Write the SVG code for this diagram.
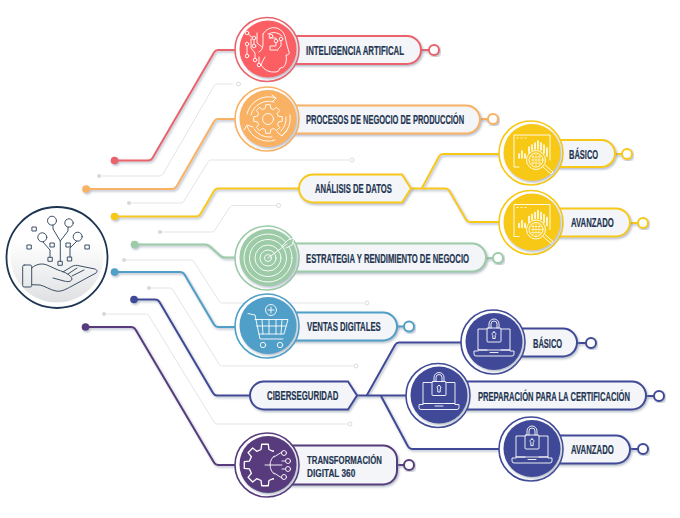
<svg xmlns="http://www.w3.org/2000/svg" width="680" height="518" viewBox="0 0 680 518">
<style>
.t{font-family:"Liberation Sans",Arial,sans-serif;font-weight:700;font-size:12.500px;fill:#1f3552;stroke:#1f3552;stroke-width:.2;text-anchor:start}
.t2{font-size:11px}
.lines path{fill:none;stroke-width:2;stroke-linejoin:round;stroke-linecap:round}
.faint path{fill:none;stroke:#e3e5e8;stroke-width:1;stroke-linejoin:round}
.faint circle{fill:#fff;stroke:#d9dcdf;stroke-width:1}
.faint .d{fill:#d6d8db;stroke:none}
.pill{fill:#f3f5f8;stroke:currentColor;stroke-width:2}
.ring{fill:#fff;stroke:currentColor;stroke-width:1.6}
.disc{fill:currentColor}
.ic{fill:none;stroke:#fff;stroke-width:.9;stroke-linejoin:round;stroke-linecap:round}
.dk{fill:none;stroke:#3d5066;stroke-width:1;stroke-linejoin:round;stroke-linecap:round}
.end{fill:#fff;stroke:currentColor;stroke-width:2}
.red{color:#ea646c}.org{color:#f9b263}.yel{color:#f7c914}.grn{color:#9dcba8}.blu{color:#4f9fc8}.nvy{color:#414a97}.pur{color:#583b7d}
</style>
<defs>
<filter id="s" x="-20%" y="-20%" width="140%" height="140%"><feDropShadow dx="1.2" dy="1.5" stdDeviation="1" flood-color="#7f8da3" flood-opacity=".6"/></filter>
<linearGradient id="hg" x1="0" y1="0" x2="0" y2="1"><stop offset=".35" stop-color="#fff"/><stop offset="1" stop-color="#dfe0e2"/></linearGradient>
<clipPath id="halfgear"><rect x="-30" y="-30" width="36" height="60"/></clipPath>
<polygon id="gear" points="10.7,-2.7 14.3,-2.3 14.3,2.3 10.7,2.7 9.4,5.7 11.7,8.5 8.5,11.7 5.7,9.4 2.7,10.7 2.3,14.3 -2.3,14.3 -2.7,10.7 -5.7,9.4 -8.5,11.7 -11.7,8.5 -9.4,5.7 -10.7,2.7 -14.3,2.3 -14.3,-2.3 -10.7,-2.7 -9.4,-5.7 -11.7,-8.5 -8.5,-11.7 -5.7,-9.4 -2.7,-10.7 -2.3,-14.3 2.3,-14.3 2.7,-10.7 5.7,-9.4 8.5,-11.7 11.7,-8.5 9.4,-5.7"/>
<g id="chart" class="ic">
<path d="M-13,14H-18V-18H18V7"/><path d="M-15,-15h1M-11,-15h1M-7,-15h1"/>
<path d="M-13,5V1M-10,5V-2M-7,5V1M-3,0V-6M0,-3V-8M3,-4V-10M6,-4V-12M9,-3V-10M12,0V-8M15,3V-5" stroke-width="1.6"/>
<circle cx="4" cy="7" r="9.5"/><circle cx="4" cy="7" r="7"/>
<path d="M-1,10H9M-1,7H10M-1,4H9M1,2V12M4,1V13M7,2V12" stroke-width=".6"/>
<path d="M11,14L19,21L21,19L13,12"/>
</g>
<g id="laptop" class="ic">
<path d="M-6,8H-15V-13H-6M8,-13H17V8H8"/>
<path d="M-15,8H17V9H21V12Q21,14 19,14H-17Q-19,14 -19,12V9H-15"/><path d="M-3,10.500H5"/>
<rect x="-6" y="-14" width="14" height="14" rx="1"/>
<path d="M-4,-14V-18A5,5 0 0 1 6,-18V-14M-2,-14V-18A3,3 0 0 1 4,-18V-14"/>
<path d="M1,-10A2,2 0 0 1 2.200,-6.500V-3.500H-.2V-6.500A2,2 0 0 1 1,-10Z"/>
</g>
</defs>
<rect width="680" height="518" fill="#fff"/>

<g id="connectors">
<g class="faint">
<path d="M99,176H160Q162,176 163,174L214,86Q215,84 217,84H233"/><circle cx="238.500" cy="84" r="2"/><circle class="d" cx="99" cy="176" r="2"/>
<path d="M129,203H181Q183,203 184,201L208,162Q209,160 211,160H349"/><circle cx="352" cy="160" r="2"/><circle class="d" cx="129" cy="203" r="2"/>
<path d="M160,232H212Q214,232 215,230L230,207Q231,205.500 233,205.500H276"/><circle cx="278.500" cy="205.500" r="2"/><circle class="d" cx="160" cy="232" r="2"/>
<path d="M124,260H191Q193,260 194,262L219,301Q220,303 222,303H364"/><circle cx="367" cy="303" r="2"/><circle class="d" cx="124" cy="260" r="2"/>
<path d="M149,288H170Q172,288 173,290L219,364Q220,366 222,366H353"/><circle cx="356" cy="366" r="2"/><circle class="d" cx="149" cy="288" r="2"/>
<path d="M104,314H146Q148,314 149,316L214,422Q215,424 217,424H347"/><circle cx="350" cy="424" r="2"/><circle class="d" cx="104" cy="314" r="2"/>
</g>
<g class="lines" filter="url(#s)">
<g stroke="#ea646c"><path d="M114,160.500H148Q151,160.500 152.500,158L214,52.500Q215.500,50 218,50H240"/><circle cx="114.500" cy="160.500" r="3.800" fill="#ea646c" stroke="none"/><path d="M421,50H429"/></g>
<g stroke="#f9b263"><path d="M86,189H172Q175,189 176.500,186.500L214,121.500Q215.500,119 218,119H240"/><circle cx="86" cy="189" r="3.800" fill="#f9b263" stroke="none"/><path d="M480,119H488"/></g>
<g stroke="#f7c914"><path d="M114,216.500H196Q199,216.500 200.500,214L214,191Q215.500,188.500 218,188.500H299"/><circle cx="114.500" cy="216.500" r="3.800" fill="#f7c914" stroke="none"/>
<path d="M411,188.500H445Q448,188.500 449.500,191L466,219.500Q467.500,222 470,222H502"/><path d="M422,188L439,156.500Q440.500,154 443,154H502"/><path d="M615,154H622M630,223H638"/></g>
<g stroke="#9dcba8"><path d="M134.500,244.500H205Q208,244.500 210,246.500L220,255.500Q222,257.500 225,257.500H240"/><circle cx="134.500" cy="244.500" r="3.800" fill="#9dcba8" stroke="none"/><path d="M486,258H493"/></g>
<g stroke="#4f9fc8"><path d="M114,272H180Q183,272 184.500,274.500L214,324.500Q215.500,327 218,327H240"/><circle cx="114.500" cy="272" r="3.800" fill="#4f9fc8" stroke="none"/><path d="M397,326.500H404"/></g>
<g stroke="#414a97"><path d="M134,299.500H155Q158,299.500 159.500,302L213,393Q214.500,395.500 217,395.500H251"/><circle cx="134" cy="299.500" r="3.800" fill="#414a97" stroke="none"/>
<path d="M357,395.500H410"/><path d="M367,395L395,345Q396.500,342.500 399,342.500H465"/><path d="M381,396L408,446.500Q409.500,449 412,449H502"/><path d="M577,343H586M646,396H654M630,449H638"/></g>
<g stroke="#583b7d"><path stroke-width="1.600" d="M85.500,327H131Q134,327 135.500,329.500L214,462.500Q215.500,465 218,465H240"/><circle cx="85.500" cy="327" r="3.800" fill="#583b7d" stroke="none"/><path d="M397,465H404"/></g>
</g>
</g>

<g id="hub">
<circle cx="57" cy="257.500" r="50.500" fill="#fff" stroke="#1d3550" stroke-width="1.800"/>
<circle cx="57" cy="256" r="46.500" fill="url(#hg)"/>
<g class="dk">
<circle cx="52" cy="220.700" r="4.500"/><circle cx="69" cy="223" r="4.200"/><circle cx="42.300" cy="237.300" r="4.500"/><circle cx="77.700" cy="236.700" r="4.500"/>
<path d="M60.300,261V241L53,229V225M60.300,241L68,231V227M43,242L50,250V257M77,241L70,248V257"/>
<rect x="32.300" y="227" width="4" height="4"/><rect x="27.300" y="245" width="4" height="4"/><rect x="50.300" y="243" width="4" height="4"/><rect x="66.300" y="243" width="4" height="4"/><rect x="85.300" y="245" width="4" height="4"/><rect x="48.300" y="257.300" width="4" height="4"/><rect x="58.300" y="261.300" width="4" height="4"/><rect x="67.700" y="257" width="4" height="4"/>
<rect x="22.700" y="265" width="9" height="22" rx="1.500"/>
<path d="M31.700,268C36,264 42,263 47,265L58,270C65,272 71,275 72,279C71,282 68,282 64,281L53,278M63,272L71,267C74,265 77,265 80,266L95,269C97.500,270 97.500,272 96,273L72,286C65,290 60,292 56,291C50,290 45,286 40,285L31.700,284.700M68,274L77,268M72,276L84,270"/>
</g>
</g>

<g id="n-ia" class="red">
<rect class="pill" x="275" y="36" width="146" height="28" rx="14" filter="url(#s)"/>
<circle class="end" cx="434" cy="50" r="5" filter="url(#s)"/>
<circle class="ring" cx="267" cy="49.500" r="32"/><circle class="disc" cx="268" cy="49" r="28.500" style="color:#fb5f64" filter="url(#s)"/>
<g class="ic" transform="translate(268,49)">
<path d="M-5,-15Q0,-23 9,-21Q17,-18 18,-8Q19,-3 21,3Q22,6 18,6Q19,10 18,13Q17,19 12,19Q12,22 8,23Q-2,24 -7,16Q-5,11 -3,8"/>
<path d="M-5,-15V-5Q-5,1 -9,3M0,-15Q8,-19 14,-13M1,-11H8V-3H2V1H10M13,-9V-3L10,0M-11,-16V-6L-6,-2M-21,-16L-14,-10V-3M-17,-10V-1L-13,4V10M-21,-3V6M-9,8V15"/>
<g fill="#fb5f64"><circle cx="-21" cy="-16" r="1.800"/><circle cx="-14" cy="-11" r="1.800"/><circle cx="-14" cy="-3" r="1.800"/><circle cx="-21" cy="-5" r="1.800"/><circle cx="-21" cy="7" r="1.800"/><circle cx="-13" cy="11" r="1.800"/><circle cx="-9" cy="16" r="1.800"/><circle cx="8" cy="-8" r="1.800"/><circle cx="13" cy="-10" r="1.800"/><circle cx="3" cy="-13" r="1.800"/></g>
</g>
<text class="t" transform="translate(306,54.500) scale(.62,1)" textLength="158" lengthAdjust="spacingAndGlyphs">INTELIGENCIA ARTIFICAL</text>
</g>

<g id="n-procesos" class="org">
<rect class="pill" x="275" y="105.500" width="205" height="28" rx="14" filter="url(#s)"/>
<circle class="end" cx="493" cy="119" r="5" filter="url(#s)"/>
<circle class="ring" cx="267" cy="119" r="32"/><circle class="disc" cx="268" cy="118.500" r="28.500" filter="url(#s)"/>
<g class="ic" transform="translate(268,119)">
<use href="#gear"/><circle r="5.500"/>
<path d="M-21,-5A22,22 0 0 1 8,-21M4,-24L8,-21L4,-17M22,-4A22,22 0 0 1 14,17M19,11L14,17L9,13M7,21A22,22 0 0 1 -21,7M-24,11L-21,6L-15,8"/>
<path d="M-17,-4A18,18 0 0 1 6,-17M18,-2A18,18 0 0 1 13,12M4,18A18,18 0 0 1 -14,10"/>
</g>
<text class="t" transform="translate(306,124) scale(.62,1)" textLength="255" lengthAdjust="spacingAndGlyphs">PROCESOS DE NEGOCIO DE PRODUCCIÓN</text>
</g>

<g id="n-analisis" class="yel">
<path class="pill" d="M402,174.500L411,188.500L402,202.500H313A14,14 0 0 1 313,174.500Z" filter="url(#s)"/>
<text class="t" transform="translate(315,193) scale(.62,1)" textLength="124" lengthAdjust="spacingAndGlyphs">ANÁLISIS DE DATOS</text>
</g>

<g id="n-basico-datos" class="yel">
<rect class="pill" x="540" y="140" width="75" height="27" rx="13.500" filter="url(#s)"/>
<circle class="end" cx="627" cy="154" r="5" filter="url(#s)"/>
<circle class="ring" cx="531" cy="153" r="32"/><circle class="disc" cx="532" cy="152.500" r="28.500" filter="url(#s)"/>
<use href="#chart" x="532" y="153"/>
<text class="t" transform="translate(569,158.500) scale(.62,1)" textLength="47" lengthAdjust="spacingAndGlyphs">BÁSICO</text>
</g>

<g id="n-avanzado-datos" class="yel">
<rect class="pill" x="540" y="208.500" width="90" height="28" rx="14" filter="url(#s)"/>
<circle class="end" cx="643" cy="223" r="5" filter="url(#s)"/>
<circle class="ring" cx="531" cy="222.500" r="32"/><circle class="disc" cx="532" cy="222" r="28.500" filter="url(#s)"/>
<use href="#chart" x="532" y="222.500"/>
<text class="t" transform="translate(571,227) scale(.62,1)" textLength="69" lengthAdjust="spacingAndGlyphs">AVANZADO</text>
</g>

<g id="n-estrategia" class="grn">
<rect class="pill" x="275" y="243.500" width="211" height="28" rx="14" filter="url(#s)"/>
<circle class="end" cx="498" cy="258" r="5" filter="url(#s)"/>
<circle class="ring" cx="267" cy="258" r="32"/><circle class="disc" cx="268" cy="257.500" r="28.500" filter="url(#s)"/>
<g class="ic" transform="translate(268,258)">
<circle r="3.500"/><circle r="8"/><circle r="13"/><circle r="18.500"/><circle r="24"/>
<path d="M0,0L19,-14M14,-12L20,-18L26,-20L24,-13L18,-10" fill="#9dcba8"/>
</g>
<text class="t" transform="translate(306,262.500) scale(.62,1)" textLength="263" lengthAdjust="spacingAndGlyphs">ESTRATEGIA Y RENDIMIENTO DE NEGOCIO</text>
</g>

<g id="n-ventas" class="blu">
<rect class="pill" x="275" y="312.500" width="122" height="28" rx="14" filter="url(#s)"/>
<circle class="end" cx="409" cy="326.500" r="5" filter="url(#s)"/>
<circle class="ring" cx="267" cy="326" r="32"/><circle class="disc" cx="268" cy="325.500" r="28.500" filter="url(#s)"/>
<g class="ic" transform="translate(268,326)">
<circle cx="3" cy="-16" r="5.500"/><path d="M3,-19V-13M0,-16H6"/>
<path d="M-20,-12.500L-13,-11L-8,13H15M-13,-6.500H20L16,8H-9M-11.500,0H18M-6,-6.500L-5,8M1,-6.500V8M8,-6.500V8M14,-6.500L13,8"/>
<circle cx="-5" cy="19" r="2.700"/><circle cx="12" cy="19" r="2.700"/>
</g>
<text class="t" transform="translate(307,331) scale(.62,1)" textLength="119" lengthAdjust="spacingAndGlyphs">VENTAS DIGITALES</text>
</g>

<g id="n-ciber" class="nvy">
<path class="pill" d="M348,381.500L357,395.500L348,409.500H264A14,14 0 0 1 264,381.500Z" filter="url(#s)"/>
<text class="t" transform="translate(267,400) scale(.62,1)" textLength="115" lengthAdjust="spacingAndGlyphs">CIBERSEGURIDAD</text>
</g>

<g id="n-basico-ciber" class="nvy">
<rect class="pill" x="505" y="328.500" width="72" height="28" rx="14" filter="url(#s)"/>
<circle class="end" cx="591" cy="343" r="5" filter="url(#s)"/>
<circle class="ring" cx="493" cy="342" r="32"/><circle class="disc" cx="494" cy="341.500" r="28.500" filter="url(#s)"/>
<use href="#laptop" x="493" y="342"/>
<text class="t" transform="translate(533,347.500) scale(.62,1)" textLength="47" lengthAdjust="spacingAndGlyphs">BÁSICO</text>
</g>

<g id="n-preparacion" class="nvy">
<rect class="pill" x="450" y="381.500" width="196" height="28" rx="14" filter="url(#s)"/>
<circle class="end" cx="659" cy="396" r="5" filter="url(#s)"/>
<circle class="ring" cx="438" cy="395.500" r="32"/><circle class="disc" cx="439" cy="395" r="28.500" filter="url(#s)"/>
<use href="#laptop" x="438" y="395.500"/>
<text class="t" transform="translate(478,400.500) scale(.62,1)" textLength="245" lengthAdjust="spacingAndGlyphs">PREPARACIÓN PARA LA CERTIFICACIÓN</text>
</g>

<g id="n-avanzado-ciber" class="nvy">
<rect class="pill" x="540" y="435.500" width="90" height="28" rx="14" filter="url(#s)"/>
<circle class="end" cx="643" cy="449" r="5" filter="url(#s)"/>
<circle class="ring" cx="531" cy="449" r="32"/><circle class="disc" cx="532" cy="448.500" r="28.500" filter="url(#s)"/>
<use href="#laptop" x="531" y="449"/>
<text class="t" transform="translate(571,454) scale(.62,1)" textLength="69" lengthAdjust="spacingAndGlyphs">AVANZADO</text>
</g>

<g id="n-transformacion" class="pur">
<rect class="pill" x="275" y="445.500" width="122" height="39" rx="14" filter="url(#s)"/>
<circle class="end" cx="409" cy="465" r="5" filter="url(#s)"/>
<circle class="ring" cx="267" cy="465" r="32"/><circle class="disc" cx="268" cy="464.500" r="28.500" filter="url(#s)"/>
<g class="ic" transform="translate(268,465)">
<g clip-path="url(#halfgear)"><use href="#gear" transform="translate(-3,0) scale(1.450)"/></g>
<path d="M6,-9A12,12 0 0 0 6,9"/><path d="M-3,0H14M6,-8L14,-13M6,8L14,13M14,-4H17M14,4H17"/>
<circle cx="16" cy="-12" r="2.500"/><circle cx="20" cy="-4" r="2.500"/><circle cx="20" cy="4" r="2.500"/><circle cx="16" cy="12" r="2.500"/>
</g>
<text class="t t2" transform="translate(307,463.500) scale(.7,1)" textLength="107" lengthAdjust="spacingAndGlyphs">TRANSFORMACIÓN</text>
<text class="t t2" transform="translate(307,476.500) scale(.7,1)" textLength="69" lengthAdjust="spacingAndGlyphs">DIGITAL 360</text>
</g>
</svg>
